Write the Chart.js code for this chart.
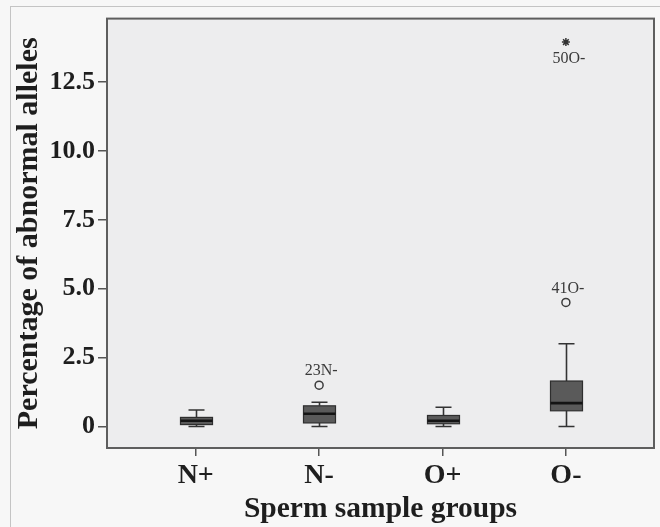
<!DOCTYPE html>
<html>
<head>
<meta charset="utf-8">
<script src="https://cdn.jsdelivr.net/npm/chart.js@4/dist/chart.umd.min.js"></script>
<style>
  html,body{margin:0;padding:0;background:#f7f7f7;}
  #wrap{position:relative;width:660px;height:527px;overflow:hidden;}
  #frame{position:absolute;left:10px;top:6px;width:700px;height:600px;border-left:1px solid #c4c4c4;border-top:1px solid #c4c4c4;}
  canvas{position:absolute;left:0;top:0;}
</style>
</head>
<body>
<div id="wrap">
  <div id="frame"></div>
  <canvas id="c" width="660" height="527"></canvas>
</div>
<script>
// ---- data ----
const categories = ['N+', 'N-', 'O+', 'O-'];
const whiskerLow  = [0, 0, 0, 0];
const q1          = [0.07, 0.13, 0.10, 0.57];
const median      = [0.21, 0.46, 0.21, 0.85];
const q3          = [0.33, 0.75, 0.40, 1.65];
const whiskerHigh = [0.60, 0.88, 0.70, 3.00];

const outlierGroup = [1, 3];
const outlierValue = [1.5, 4.5];
const outlierLabel = ['23N-', '41O-'];

const extremeGroup = [3];
const extremeValue = [13.95];
const extremeLabel = ['50O-'];

const yTickValues = [0, 2.5, 5.0, 7.5, 10.0, 12.5];

const SERIF = '"Liberation Serif", "DejaVu Serif", serif';

const boxPlugin = {
  id: 'boxes',
  beforeDatasetsDraw(chart) {
    const {ctx, chartArea: a, scales: {x, y}} = chart;
    ctx.save();
    ctx.beginPath();
    ctx.rect(a.left, a.top, a.right - a.left, a.bottom - a.top);
    ctx.clip();
    for (let i = 0; i < categories.length; i++) {
      const cx = Math.round(x.getPixelForValue(i)) + 0.5;
      const half = 16, cap = 8;
      const yLo = y.getPixelForValue(whiskerLow[i]);
      const yQ1 = y.getPixelForValue(q1[i]);
      const yMed = y.getPixelForValue(median[i]);
      const yQ3 = y.getPixelForValue(q3[i]);
      const yHi = y.getPixelForValue(whiskerHigh[i]);
      ctx.strokeStyle = '#333333';
      ctx.lineWidth = 1.6;
      // whiskers
      ctx.beginPath();
      ctx.moveTo(cx, yHi); ctx.lineTo(cx, yQ3);
      ctx.moveTo(cx, yQ1); ctx.lineTo(cx, yLo);
      ctx.moveTo(cx - cap, yHi); ctx.lineTo(cx + cap, yHi);
      ctx.moveTo(cx - cap, yLo); ctx.lineTo(cx + cap, yLo);
      ctx.stroke();
      // box
      ctx.fillStyle = '#5a5a5a';
      ctx.fillRect(cx - half, yQ3, half * 2, yQ1 - yQ3);
      ctx.lineWidth = 1.2;
      ctx.strokeStyle = '#2e2e2e';
      ctx.strokeRect(cx - half, yQ3, half * 2, yQ1 - yQ3);
      // median
      ctx.beginPath();
      ctx.lineWidth = 2.6;
      ctx.strokeStyle = '#141414';
      ctx.moveTo(cx - half, yMed); ctx.lineTo(cx + half, yMed);
      ctx.stroke();
    }
    ctx.restore();
  },
  beforeDraw(chart) {
    const {ctx, chartArea: a} = chart;
    ctx.save();
    ctx.fillStyle = '#ededee';
    ctx.fillRect(a.left, a.top, a.right - a.left, a.bottom - a.top);
    ctx.restore();
  },
  afterDraw(chart) {
    const {ctx, chartArea: a, scales: {x, y}} = chart;
    ctx.save();
    ctx.strokeStyle = '#5e5e5e';
    ctx.lineWidth = 2;
    ctx.strokeRect(a.left, a.top, a.right - a.left, a.bottom - a.top);
    // point labels
    ctx.fillStyle = '#3a3a3a';
    ctx.font = '16px ' + SERIF;
    ctx.textAlign = 'center';
    ctx.textBaseline = 'middle';
    outlierLabel.forEach((t, k) => {
      const px = x.getPixelForValue(outlierGroup[k]);
      const py = y.getPixelForValue(outlierValue[k]);
      ctx.fillText(t, px + 2, py - 14);
    });
    extremeLabel.forEach((t, k) => {
      const px = x.getPixelForValue(extremeGroup[k]);
      const py = y.getPixelForValue(extremeValue[k]);
      ctx.fillText(t, px + 3, py + 17);
    });
    ctx.restore();
  }
};

new Chart(document.getElementById('c'), {
  type: 'scatter',
  data: {
    datasets: [
      {
        label: 'outliers',
        data: outlierGroup.map((g, k) => ({x: g, y: outlierValue[k]})),
        pointStyle: 'circle',
        pointRadius: 4,
        pointBorderWidth: 1.5,
        borderColor: '#3c3c3c',
        backgroundColor: '#ededee'
      },
      {
        label: 'extremes',
        data: extremeGroup.map((g, k) => ({x: g, y: extremeValue[k]})),
        pointStyle: 'star',
        pointRadius: 4,
        pointBorderWidth: 1.5,
        borderColor: '#333333',
        backgroundColor: '#333333'
      }
    ]
  },
  options: {
    responsive: false,
    animation: false,
    devicePixelRatio: 1,
    layout: {padding: {left: 0, right: 6, top: 13, bottom: 0}},
    plugins: {legend: {display: false}, tooltip: {enabled: false}},
    scales: {
      x: {
        type: 'linear',
        min: -0.719,
        max: 3.714,
        afterBuildTicks: s => { s.ticks = categories.map((c, i) => ({value: i})); },
        afterFit: s => { s.height = 79; },
        grid: {display: true, drawOnChartArea: false, drawTicks: true, tickLength: 8, color: '#555', lineWidth: 1.5},
        border: {display: false},
        ticks: {
          padding: 3,
          color: '#1e1e1e',
          font: {family: SERIF, size: 28, weight: 'bold'},
          callback: v => categories[v]
        },
        title: {
          display: true,
          text: 'Sperm sample groups',
          color: '#1e1e1e',
          font: {family: SERIF, size: 29.5, weight: 'bold'},
          padding: {top: 0, bottom: 0}
        }
      },
      y: {
        type: 'linear',
        min: -0.78,
        max: 14.8,
        afterBuildTicks: s => { s.ticks = yTickValues.map(v => ({value: v})); },
        afterFit: s => { s.width = 107; },
        grid: {display: true, drawOnChartArea: false, drawTicks: true, tickLength: 9, color: '#555', lineWidth: 1.5},
        border: {display: false},
        ticks: {
          padding: 3,
          color: '#1e1e1e',
          font: {family: SERIF, size: 26, weight: 'bold'},
          callback: v => (v === 0 ? '0' : v.toFixed(1))
        },
        title: {
          display: true,
          text: 'Percentage of abnormal alleles',
          color: '#1e1e1e',
          font: {family: SERIF, size: 30, weight: 'bold'},
          padding: {top: 11, bottom: 0}
        }
      }
    }
  },
  plugins: [boxPlugin]
});
</script>
</body>
</html>
